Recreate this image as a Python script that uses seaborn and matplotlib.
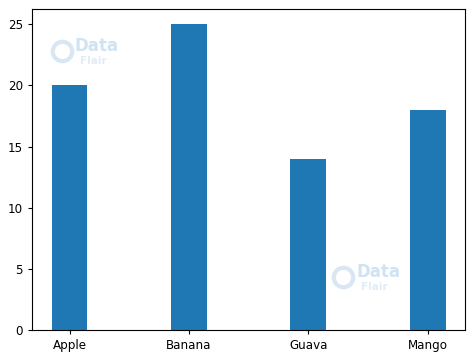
import matplotlib
matplotlib.use("Agg")
import matplotlib.pyplot as plt
import seaborn as sns
import pandas as pd

fruits = ["Apple", "Banana", "Guava", "Mango"]
counts = [20, 25, 14, 18]

df = pd.DataFrame({"fruit": fruits, "count": counts})

plt.rcParams["font.family"] = ["DejaVu Sans"]
fig = plt.figure(figsize=(4.74, 3.6), dpi=100)
ax = fig.add_axes([0.0675, 0.083, 0.914, 0.892])

sns.barplot(data=df, x="fruit", y="count", color="#1f77b4", saturation=1,
            width=0.3, ax=ax, errorbar=None)
ax.set_xlim(-0.315, 3.315)
ax.set_ylim(0, 26.25)
ax.set_xlabel("")
ax.set_ylabel("")
ax.tick_params(labelsize=8.6, length=3, width=0.8)
for s in ax.spines.values():
    s.set_linewidth(0.8)

# faint watermark
for (x, y) in [(0.099, 0.87), (0.748, 0.165)]:
    ax.text(x, y, "Data", transform=ax.transAxes, fontsize=12,
            fontweight="bold", color="#cfe3f2", zorder=5)
    ax.text(x + 0.012, y - 0.04, "Flair", transform=ax.transAxes, fontsize=7.5,
            fontweight="bold", color="#e0ecf6", zorder=5)
    ax.plot([x - 0.03], [y - 0.0], marker="o", markersize=14, mfc="none",
            mec="#d8e7f3", mew=3, transform=ax.transAxes, zorder=5)

fig.savefig("out.png", dpi=100)
